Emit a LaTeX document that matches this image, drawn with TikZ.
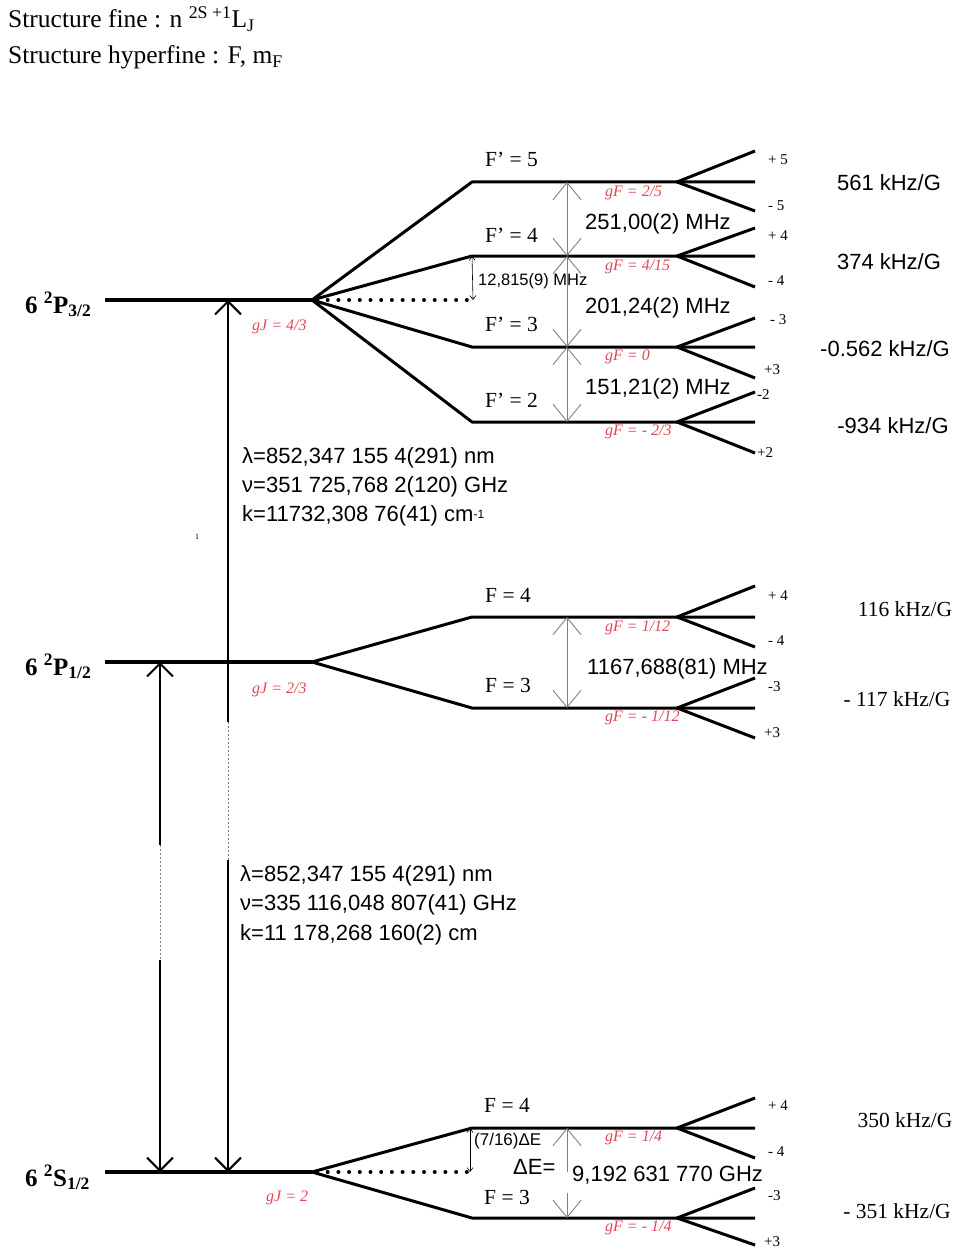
\documentclass[tikz,border=0pt]{standalone}
\usepackage{fontspec}
\setmainfont{Liberation Serif}
\newfontfamily\arialfam{Liberation Sans}
\usetikzlibrary{arrows.meta}
\definecolor{gred}{RGB}{222,72,84}
\newcommand\hfsub[4]{%
  \coordinate (#1a) at (472,#2);
  \coordinate (#1m) at (567,#2);
  \coordinate (#1b) at (677,#2);
  \coordinate (#1e) at (755,#2);
  \coordinate (#1u) at (755,#3);
  \coordinate (#1d) at (755,#4);
  \draw[level] (#1u) -- (#1b) -- (#1d);}
\begin{document}
\begin{tikzpicture}[x=1pt,y=-1pt,
  level/.style={line width=3pt, line join=round},
  statelevel/.style={line width=3.4pt},
  gaparrow/.style={draw=gray, line width=0.9pt},
  gapboth/.style={{Straight Barb[length=17pt,width=28pt]}-{Straight Barb[length=17pt,width=28pt]}},
  gapstart/.style={{Straight Barb[length=17pt,width=28pt]}-},
  gapend/.style={-{Straight Barb[length=17pt,width=28pt]}},
  smallarrow/.style={line width=0.6pt, {Straight Barb[length=4pt,width=6pt]}-{Straight Barb[length=4pt,width=6pt]}},
  bigline/.style={line width=2pt},
  bigstart/.style={{Straight Barb[length=13pt,width=26pt]}-},
  bigend/.style={-{Straight Barb[length=13pt,width=26pt]}},
  faint/.style={draw=gray, line width=0.8pt, dash pattern=on 2pt off 2pt},
  dotrow/.style={line width=4pt, line cap=round, dash pattern=on 0pt off 10.7pt},
  sans/.style={font=\arialfam\fontsize{22}{26}\selectfont, inner sep=0pt},
  sanssmall/.style={font=\arialfam\fontsize{16.5}{18}\selectfont, inner sep=0pt},
  serif/.style={font=\fontsize{21.5}{24}\selectfont, inner sep=0pt},
  gf/.style={font=\itshape\fontsize{16}{17}\selectfont, text=gred, inner sep=0pt, anchor=west},
  mf/.style={font=\fontsize{15}{16}\selectfont, inner sep=0pt},
  state/.style={font=\bfseries\fontsize{25}{28}\selectfont, inner sep=0pt, anchor=base west},
  head/.style={font=\fontsize{25.5}{28}\selectfont, inner sep=0pt, anchor=base west}]
\useasboundingbox (0,0) rectangle (957,1252);

% header
\node[head] (h1) at (8,28) {Structure fine : n \textsuperscript{2S +1}L\textsubscript{J}};
\node[head] (h2) at (8,64) {Structure hyperfine : F, m\textsubscript{F}};

% ---------- 6 2P3/2 ----------
\coordinate (P3) at (105,300);
\coordinate (P3f) at (312,300);
\draw[statelevel] (P3) -- (P3f);
\node[state] (P3lab) at (25,313) {6 \textsuperscript{2}P\textsubscript{3/2}};
\hfsub{F5}{182}{151}{211}
\hfsub{F4}{256}{228}{287}
\hfsub{F3}{347}{318}{378}
\hfsub{F2}{422}{392}{453}
\draw[level] (P3f) -- (F5a) -- (F5e);
\draw[level] (P3f) -- (F4a) -- (F4e);
\draw[level] (P3f) -- (F3a) -- (F3e);
\draw[level] (P3f) -- (F2a) -- (F2e);
\coordinate (P3dotstart) at (317,300);
\coordinate (P3dotend) at (473,300);
\draw[dotrow] (P3dotstart) -- (P3dotend);
\draw[smallarrow] (F4a) -- (P3dotend);
\draw[gaparrow, gapboth] (F5m) -- (F4m);
\draw[gaparrow, gapboth] (F4m) -- (F3m);
\draw[gaparrow, gapboth] (F3m) -- (F2m);

\node[serif, anchor=west] (F5lab) at (485,159) {F' = 5};
\node[serif, anchor=west] (F4lab) at (485,235) {F' = 4};
\node[serif, anchor=west] (F3lab) at (485,324) {F' = 3};
\node[serif, anchor=west] (F2lab) at (485,400) {F' = 2};
\node[gf] (gF5) at (605,193) {gF = 2/5};
\node[gf] (gF4) at (605,267) {gF = 4/15};
\node[gf] (gF3) at (605,357) {gF = 0};
\node[gf] (gF2) at (605,432) {gF = - 2/3};
\node[gf] (gJ1) at (252,327) {gJ = 4/3};
\node[sans, anchor=west] (m251) at (585,224) {251,00(2) MHz};
\node[sans, anchor=west] (m201) at (585,308) {201,24(2) MHz};
\node[sans, anchor=west] (m151) at (585,389) {151,21(2) MHz};
\node[sanssmall, anchor=west] (m12) at (478,281) {12,815(9) MHz};

\node[mf, anchor=west] (p5) at (768,160) {+ 5};
\node[mf, anchor=west] (n5) at (768,206) {- 5};
\node[mf, anchor=west] (p4) at (768,236) {+ 4};
\node[mf, anchor=west] (n4) at (768,281) {- 4};
\node[mf, anchor=west] (n3) at (770,320) {- 3};
\node[mf, anchor=west] (p3) at (764,370) {+3};
\node[mf, anchor=west] (n2) at (757,395) {-2};
\node[mf, anchor=west] (p2) at (757,453) {+2};

\node[sans] (k561) at (889,183) {561 kHz/G};
\node[sans] (k374) at (889,262) {374 kHz/G};
\node[sans] (k0562) at (885,349) {-0.562 kHz/G};
\node[sans] (k934) at (893,426) {-934 kHz/G};

% ---------- D2 text ----------
\node[sans, anchor=west] (d2a) at (242,458) {λ=852,347 155 4(291) nm};
\node[sans, anchor=west] (d2b) at (242,487) {ν=351 725,768 2(120) GHz};
\node[sans, anchor=west] (d2c) at (242,516) {k=11732,308 76(41) cm\raisebox{3pt}{\fontsize{12}{12}\selectfont -1}};
\node[font=\fontsize{8}{8}\selectfont, inner sep=0pt] (tick) at (197,537) {1};

% ---------- 6 2P1/2 ----------
\coordinate (P1) at (105,662);
\coordinate (P1f) at (312,662);
\draw[statelevel] (P1) -- (P1f);
\node[state] (P1lab) at (25,675) {6 \textsuperscript{2}P\textsubscript{1/2}};
\hfsub{G4}{617}{586}{647}
\hfsub{G3}{708}{678}{738}
\draw[level] (P1f) -- (G4a) -- (G4e);
\draw[level] (P1f) -- (G3a) -- (G3e);
\draw[gaparrow, gapboth] (G4m) -- (G3m);
\node[serif, anchor=west] (G4lab) at (485,595) {F = 4};
\node[serif, anchor=west] (G3lab) at (485,685) {F = 3};
\node[gf] (gG4) at (605,628) {gF = 1/12};
\node[gf] (gG3) at (605,718) {gF = - 1/12};
\node[gf] (gJ2) at (252,690) {gJ = 2/3};
\node[sans, anchor=west] (m1167) at (587,669) {1167,688(81) MHz};
\node[mf, anchor=west] (q4p) at (768,596) {+ 4};
\node[mf, anchor=west] (q4n) at (768,641) {- 4};
\node[mf, anchor=west] (q3n) at (768,687) {-3};
\node[mf, anchor=west] (q3p) at (764,733) {+3};
\node[serif] (k116) at (905,609) {116 kHz/G};
\node[serif] (k117) at (897,699) {- 117 kHz/G};

% ---------- D1 text ----------
\node[sans, anchor=west] (d1a) at (240,876) {λ=852,347 155 4(291) nm};
\node[sans, anchor=west] (d1b) at (240,905) {ν=335 116,048 807(41) GHz};
\node[sans, anchor=west] (d1c) at (240,935) {k=11 178,268 160(2) cm};

% ---------- 6 2S1/2 ----------
\coordinate (S) at (105,1172);
\coordinate (Sf) at (312,1172);
\draw[statelevel] (S) -- (Sf);
\node[state] (Slab) at (25,1186) {6 \textsuperscript{2}S\textsubscript{1/2}};
\hfsub{S4}{1128}{1098}{1158}
\hfsub{S3}{1218}{1188}{1245}
\draw[level] (Sf) -- (S4a) -- (S4e);
\draw[level] (Sf) -- (S3a) -- (S3e);
\coordinate (Sdotstart) at (317,1172);
\coordinate (Sdotend) at (470,1172);
\draw[dotrow] (Sdotstart) -- (Sdotend);
\coordinate (S4ax) at (470,1128);
\draw[smallarrow] (S4ax) -- (Sdotend);
\coordinate (Sgap1) at (567,1172);
\coordinate (Sgap2) at (567,1193);
\draw[gaparrow, gapstart] (S4m) -- (Sgap1);
\draw[gaparrow, gapend] (Sgap2) -- (S3m);
\node[serif, anchor=west] (S4lab) at (484,1105) {F = 4};
\node[serif, anchor=west] (S3lab) at (484,1197) {F = 3};
\node[gf] (gS4) at (605,1138) {gF = 1/4};
\node[gf] (gS3) at (605,1228) {gF = - 1/4};
\node[gf] (gJ3) at (266,1198) {gJ = 2};
\node[font=\arialfam\fontsize{17}{18}\selectfont, inner sep=0pt, anchor=west] (sev) at (474,1141) {(7/16)ΔE};
\node[sans, anchor=west] (dE) at (513,1167) {ΔE=};
\node[sans, anchor=west] (dEv) at (572,1175) {9,192 631 770 GHz};
\node[mf, anchor=west] (s4p) at (768,1106) {+ 4};
\node[mf, anchor=west] (s4n) at (768,1152) {- 4};
\node[mf, anchor=west] (s3n) at (768,1196) {-3};
\node[mf, anchor=west] (s3p) at (764,1242) {+3};
\node[serif] (k350) at (905,1120) {350 kHz/G};
\node[serif] (k351) at (897,1211) {- 351 kHz/G};

% ---------- transitions ----------
\coordinate (Atop) at (228,300);
\coordinate (As1) at (228,722);
\coordinate (As2) at (228,860);
\coordinate (Abot) at (228,1172);
\draw[bigline, bigstart] (Atop) -- (As1);
\draw[faint] (As1) -- (As2);
\draw[bigline, bigend] (As2) -- (Abot);
\coordinate (Btop) at (160,662);
\coordinate (Bs1) at (160,845);
\coordinate (Bs2) at (160,960);
\coordinate (Bbot) at (160,1172);
\draw[bigline, bigstart] (Btop) -- (Bs1);
\draw[faint] (Bs1) -- (Bs2);
\draw[bigline, bigend] (Bs2) -- (Bbot);
\end{tikzpicture}
\end{document}
